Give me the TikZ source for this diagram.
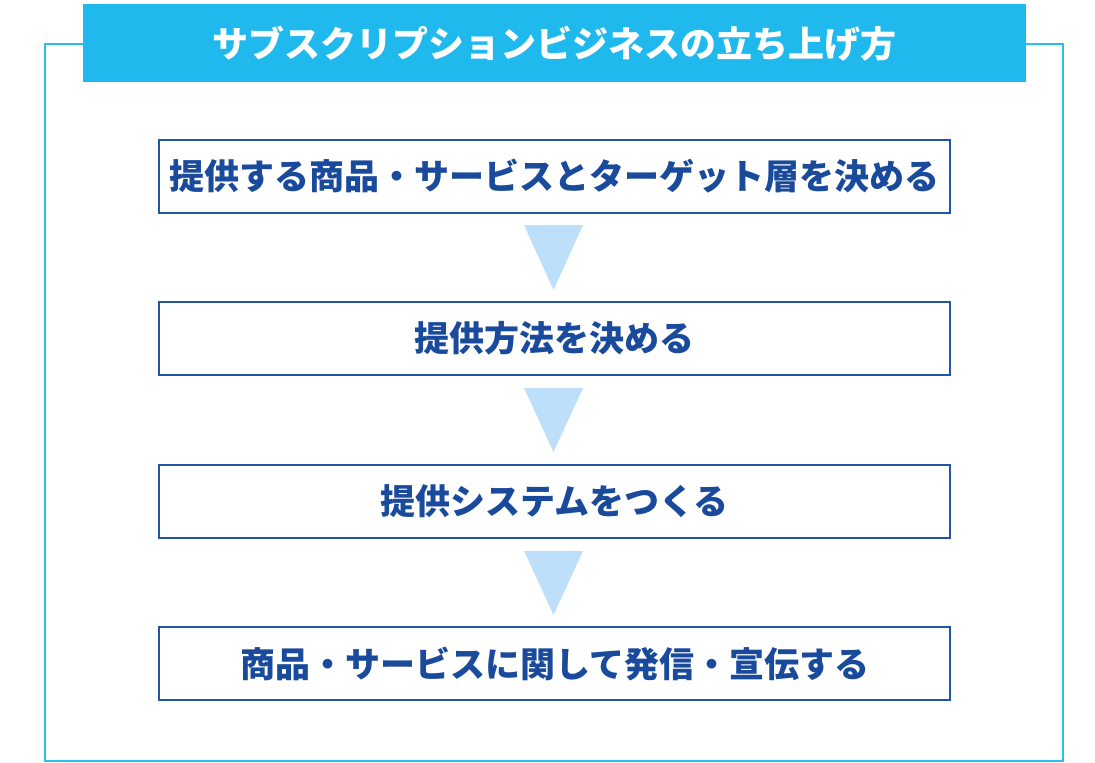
\documentclass[tikz,border=0pt]{standalone}
\usepackage{fontspec}
\newfontfamily\cjk{Noto Sans CJK JP}
\definecolor{frame}{HTML}{29BFEF}
\definecolor{titlebg}{HTML}{20B9EE}
\definecolor{boxline}{HTML}{2155A5}
\definecolor{boxtext}{HTML}{1A4A9B}
\definecolor{tri}{HTML}{BDDFFA}
\tikzset{
  stepbox/.style={draw=boxline, line width=2pt, fill=white, minimum width=791pt, minimum height=73pt, inner sep=0pt, text=boxtext, font=\cjk\bfseries\fontsize{35}{40}\selectfont},
}
\begin{document}
\begin{tikzpicture}[x=1pt,y=-1pt]
\useasboundingbox (0,0) rectangle (1095,763);
\draw[frame, line width=2pt] (45,44) rectangle (1063,761);
\node[fill=titlebg, minimum width=943pt, minimum height=78pt, inner sep=0pt, text=white, font=\cjk\bfseries\fontsize{36}{40}\selectfont, anchor=north west] (title) at (83,4) {サブスクリプションビジネスの立ち上げ方};
\node[stepbox] (s1) at (554.5,176.5) {提供する商品・サービスとターゲット層を決める};
\node[stepbox] (s2) at (554.5,338.5) {提供方法を決める};
\node[stepbox] (s3) at (554.5,501) {提供システムをつくる};
\node[stepbox] (s4) at (554.5,663.5) {商品・サービスに関して発信・宣伝する};
\fill[tri] (524,225) -- (583,225) -- (553.5,290) -- cycle;
\fill[tri] (524,388) -- (583,388) -- (553.5,452) -- cycle;
\fill[tri] (524,551) -- (583,551) -- (553.5,615) -- cycle;
\end{tikzpicture}
\end{document}
